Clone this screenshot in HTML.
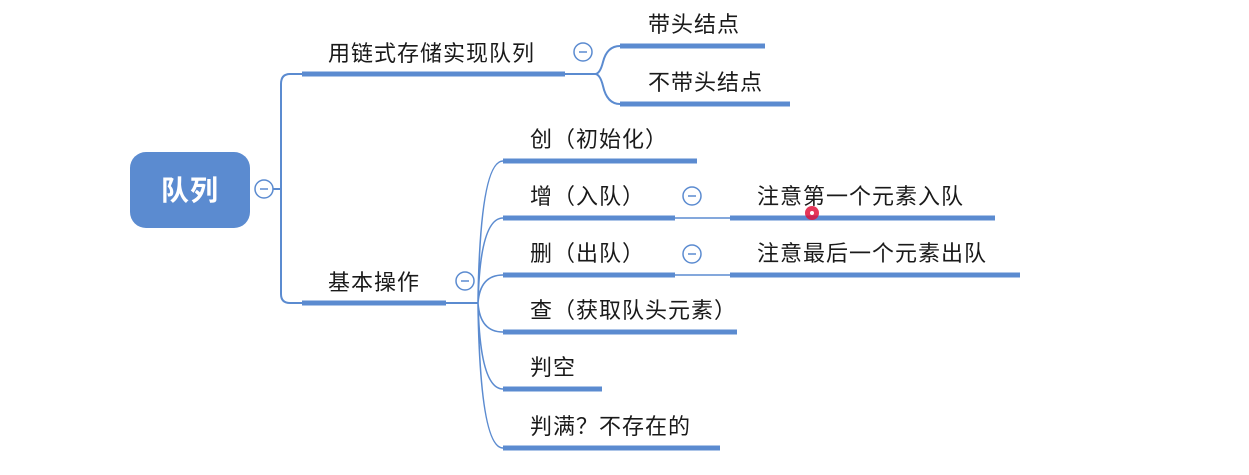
<!DOCTYPE html>
<html><head><meta charset="utf-8"><style>
html,body{margin:0;padding:0;background:#fff;width:1249px;height:475px;overflow:hidden}
svg text{font-family:"Liberation Sans","Noto Sans CJK SC",sans-serif;fill:#1a1a1a;font-size:22px;letter-spacing:1px}
</style></head><body>
<svg width="1249" height="475" viewBox="0 0 1249 475">
<g fill="none" stroke="#5b8bd0">
 <path d="M272 189 H281 M302 74 H290 Q281 74 281 84 V294 Q281 303 290 303 H302" stroke-width="2"/>
 <path d="M565 74 H595 Q600 74 603 62 Q607 46 620 46 M595 74 Q600 74 603 86 Q607 104 620 104" stroke-width="2"/>
 <path d="M446 303 H478" stroke-width="2"/>
 <path d="M478 303 Q480 161 503 161 M478 303 Q480 218 503 218 M478 303 Q480 275 503 275 M478 303 Q480 332 503 332 M478 303 Q480 389 503 389 M478 303 Q480 448 503 448" stroke-width="1.6"/>
 <path d="M675 218 H730 M675 275 H730" stroke-width="1.5"/>
 <g stroke-width="5">
  <path d="M302 74 H565"/><path d="M620 46 H765"/><path d="M620 104 H790"/>
  <path d="M302 303 H446"/>
  <path d="M503 161 H697"/><path d="M503 218 H675"/><path d="M503 275 H675"/>
  <path d="M503 332 H737"/><path d="M503 389 H602"/><path d="M503 448 H720"/>
  <path d="M730 218 H995"/><path d="M730 275 H1020"/>
 </g>
 <g stroke-width="1.5" fill="#fff">
  <circle cx="264" cy="189" r="9"/><circle cx="583" cy="52" r="9"/>
  <circle cx="465" cy="281" r="9"/><circle cx="692" cy="196" r="9"/><circle cx="692" cy="254" r="9"/>
 </g>
 <g stroke-width="1.5">
  <path d="M260 189 H268 M579 52 H587 M461 281 H469 M688 196 H696 M688 254 H696"/>
 </g>
</g>
<rect x="130" y="152" width="120" height="76" rx="16" fill="#5b8bd0"/>
<text x="190" y="200" text-anchor="middle" style="fill:#fff;font-size:28px;font-weight:bold;letter-spacing:1px">队列</text>
<text x="328" y="61">用链式存储实现队列</text>
<text x="648" y="32">带头结点</text>
<text x="648" y="90">不带头结点</text>
<text x="328" y="290">基本操作</text>
<text x="530" y="147">创（初始化）</text>
<text x="530" y="204">增（入队）</text>
<text x="530" y="261">删（出队）</text>
<text x="530" y="318">查（获取队头元素）</text>
<text x="530" y="375">判空</text>
<text x="530" y="434">判满？不存在的</text>
<text x="757" y="204">注意第一个元素入队</text>
<text x="757" y="261">注意最后一个元素出队</text>
<circle cx="812" cy="213" r="7" fill="#e0143c" opacity="0.85"/>
<circle cx="812" cy="213" r="2" fill="#fff"/>
</svg>
</body></html>
